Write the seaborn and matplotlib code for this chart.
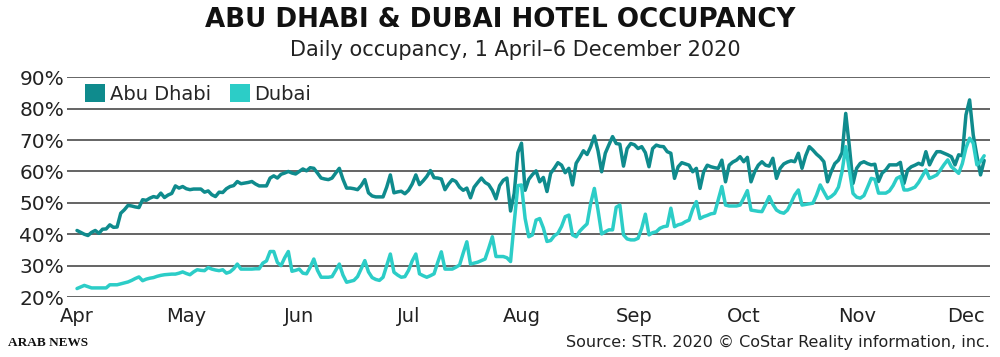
"""
Abu Dhabi & Dubai hotel occupancy, daily, 1 April - 6 December 2020.
"""

import matplotlib.pyplot as plt
import matplotlib.dates as mdates
from matplotlib.patches import Patch
from matplotlib.ticker import FuncFormatter
import seaborn as sns
import pandas as pd

sns.set_style("white")
plt.rcParams["font.family"] = ["DejaVu Sans"]

# daily occupancy (%), one row per month
abu_dhabi = [
    # Apr
    41.2, 40.6, 40.0, 39.6, 40.6, 41.2, 40.3, 41.6, 41.7, 43.0,
    42.2, 42.3, 46.7, 47.8, 49.2, 49.0, 48.7, 48.5, 51.0, 50.8,
    51.5, 52.0, 51.7, 53.1, 51.7, 52.5, 53.0, 55.4, 54.7, 55.2,
    # May
    54.5, 54.2, 54.4, 54.4, 54.4, 53.4, 53.8, 52.6, 52.0, 53.4,
    53.3, 54.5, 55.2, 55.5, 56.8, 56.1, 56.3, 56.5, 56.8, 56.0,
    55.4, 55.4, 55.4, 57.9, 58.6, 57.9, 59.1, 59.5, 60.0, 59.5,
    59.2,
    # Jun
    60.0, 60.8, 60.2, 61.2, 61.0, 59.5, 57.9, 57.6, 57.4, 57.9,
    59.5, 61.0, 57.5, 54.7, 54.7, 54.5, 54.2, 55.5, 57.4, 53.2,
    52.2, 51.9, 51.9, 51.9, 55.0, 58.9, 53.2, 53.5, 53.7, 52.9,
    # Jul
    54.0, 56.0, 58.9, 55.8, 57.0, 58.4, 60.3, 58.0, 57.9, 57.6,
    54.2, 56.0, 57.4, 56.8, 55.0, 54.0, 54.7, 51.6, 55.0, 56.5,
    57.9, 56.5, 55.8, 54.0, 51.3, 55.5, 57.2, 57.9, 47.4, 53.0,
    66.0,
    # Aug
    69.0, 54.0, 57.5, 59.0, 60.2, 56.7, 58.1, 53.6, 59.4, 61.0,
    62.8, 62.0, 59.6, 61.0, 55.7, 62.6, 64.5, 66.6, 65.4, 67.9,
    71.3, 66.6, 59.9, 65.8, 68.5, 71.1, 68.9, 68.7, 61.7, 67.3,
    68.9,
    # Sep
    68.5, 67.3, 67.9, 66.0, 61.5, 67.3, 68.4, 68.0, 67.9, 66.3,
    65.8, 57.8, 61.5, 62.8, 62.4, 62.0, 59.9, 61.0, 54.6, 59.9,
    62.0, 61.5, 61.2, 61.0, 63.6, 56.7, 62.0, 63.0, 63.6, 64.7,
    # Oct
    63.1, 64.5, 56.7, 59.9, 62.0, 63.1, 62.0, 61.7, 64.2, 57.8,
    61.0, 62.4, 63.0, 63.4, 63.1, 65.8, 61.0, 65.0, 67.9, 66.8,
    65.5, 64.5, 63.1, 56.7, 59.9, 62.5, 63.6, 66.0, 78.5, 67.9,
    56.2,
    # Nov
    61.0, 62.6, 63.1, 62.5, 62.1, 62.3, 56.8, 59.5, 60.5, 62.1,
    62.1, 62.1, 62.9, 56.2, 60.5, 61.5, 62.0, 62.6, 62.1, 66.3,
    62.1, 64.5, 66.3, 66.3, 65.8, 65.3, 64.7, 62.1, 65.3, 65.0,
    # Dec
    78.0, 82.8, 71.6, 65.0, 58.9, 63.5,
]

dubai = [
    # Apr
    22.7, 23.2, 23.7, 23.3, 22.9, 22.9, 22.9, 22.9, 22.9, 23.9,
    23.9, 23.9, 24.2, 24.5, 24.8, 25.3, 25.9, 26.4, 25.2, 25.7,
    26.0, 26.2, 26.6, 26.9, 27.1, 27.2, 27.3, 27.3, 27.6, 28.0,
    # May
    27.5, 27.1, 28.0, 28.7, 28.5, 28.4, 29.4, 28.9, 28.6, 28.4,
    28.7, 27.6, 28.0, 29.0, 30.5, 28.9, 28.9, 28.9, 28.9, 29.0,
    29.0, 30.8, 31.5, 34.5, 34.5, 31.0, 30.0, 32.5, 34.5, 28.2,
    28.5,
    # Jun
    28.9, 27.6, 27.4, 29.5, 32.1, 28.5, 26.3, 26.3, 26.3, 26.5,
    28.5, 30.5, 27.0, 24.7, 25.0, 25.3, 26.5, 29.0, 31.6, 28.0,
    26.2, 25.6, 25.3, 26.3, 30.0, 33.7, 27.9, 27.0, 26.3, 26.5,
    # Jul
    28.5, 31.5, 33.7, 27.4, 26.8, 26.3, 26.8, 27.4, 31.0, 34.4,
    28.9, 28.9, 28.9, 29.5, 30.2, 34.0, 37.6, 30.5, 30.8, 31.1,
    31.6, 32.1, 35.5, 39.2, 32.9, 32.9, 32.9, 32.5, 31.3, 43.7,
    55.5,
    # Aug
    55.7, 45.0, 39.2, 39.8, 44.5, 45.0, 42.0, 37.7, 38.0, 39.5,
    40.3, 42.5, 45.6, 46.1, 39.8, 39.2, 41.0, 42.2, 43.3, 49.9,
    54.6, 47.7, 40.1, 40.8, 41.4, 41.4, 48.6, 49.3, 39.8, 38.5,
    38.2,
    # Sep
    38.2, 38.7, 41.9, 46.4, 39.8, 40.5, 40.8, 41.9, 42.4, 42.6,
    48.3, 42.4, 43.0, 43.3, 44.0, 44.5, 48.0, 50.4, 45.0, 45.6,
    46.0, 46.5, 46.7, 51.0, 55.2, 49.3, 49.0, 49.0, 49.0, 49.3,
    # Oct
    51.5, 53.9, 47.7, 47.5, 47.3, 47.2, 49.5, 52.0, 49.5, 47.7,
    47.0, 46.7, 47.7, 50.0, 52.5, 54.1, 49.3, 49.5, 49.7, 49.9,
    52.5, 55.7, 53.5, 51.4, 52.0, 53.0, 55.0, 60.0, 67.9, 60.5,
    53.0,
    # Nov
    51.8, 51.5, 52.3, 55.0, 57.8, 57.5, 53.1, 53.1, 53.1, 53.8,
    55.5, 57.8, 58.4, 54.1, 54.1, 54.5, 55.0, 56.5, 58.5, 60.5,
    57.8, 58.3, 58.9, 60.5, 62.2, 63.7, 61.5, 60.5, 59.4, 62.5,
    # Dec
    67.5, 70.6, 69.0, 62.1, 63.2, 65.0,
]

cities = ["Abu Dhabi", "Dubai"]
colors = {"Abu Dhabi": "#0f8b8d", "Dubai": "#2ccdc7"}
y_ticks = [20, 30, 40, 50, 60, 70, 80, 90]

dates = pd.date_range("2020-04-01", "2020-12-06", freq="D")
df = pd.DataFrame(
    {
        "date": list(dates) * 2,
        "occupancy": abu_dhabi + dubai,
        "city": ["Abu Dhabi"] * len(abu_dhabi) + ["Dubai"] * len(dubai),
    }
)

fig = plt.figure(figsize=(10, 3.57), dpi=100)
ax = fig.add_axes([0.067, 0.168, 0.923, 0.6155])

sns.lineplot(
    data=df,
    x="date",
    y="occupancy",
    hue="city",
    hue_order=cities,
    palette=colors,
    linewidth=2.5,
    legend=False,
    ax=ax,
)

ax.set_ylim(20, 90)
ax.set_yticks(y_ticks)
ax.yaxis.set_major_formatter(FuncFormatter(lambda v, _: f"{v:.0f}%"))
ax.set_xlim(dates[0] - pd.Timedelta(days=2.75), dates[-1] + pd.Timedelta(days=1.6))
ax.xaxis.set_major_locator(mdates.MonthLocator())
ax.xaxis.set_major_formatter(mdates.DateFormatter("%b"))

ax.yaxis.grid(True, color="#3a3a3a", linewidth=1.1)
ax.xaxis.grid(False)
ax.set_axisbelow(True)
for s in ax.spines.values():
    s.set_visible(False)
ax.tick_params(axis="y", length=0, pad=2, labelsize=14.5, labelcolor="#222222")
ax.tick_params(axis="x", length=0, pad=7, labelsize=14, labelcolor="#222222")
ax.set_xlabel("")
ax.set_ylabel("")

handles = [Patch(facecolor=colors[c], edgecolor="none", label=c) for c in cities]
ax.legend(
    handles=handles,
    loc="upper left",
    bbox_to_anchor=(0.005, 1.03),
    ncol=2,
    frameon=False,
    fontsize=14,
    handlelength=1.0,
    handleheight=1.0,
    handletextpad=0.25,
    columnspacing=1.0,
    borderpad=0.2,
)

fig.text(
    0.5, 0.944, "ABU DHABI & DUBAI HOTEL OCCUPANCY",
    ha="center", va="center", fontsize=18.8, fontweight="heavy", color="#111111",
)
fig.text(
    0.515, 0.86, "Daily occupancy, 1 April\u20136 December 2020",
    ha="center", va="center", fontsize=15, color="#222222",
)
fig.text(
    0.008, 0.04, "ARAB NEWS",
    ha="left", va="center", fontsize=9.5, fontweight="bold",
    family=["Liberation Serif", "DejaVu Serif"], color="#111111",
)
fig.text(
    0.99, 0.04, "Source: STR. 2020 \u00a9 CoStar Reality information, inc.",
    ha="right", va="center", fontsize=11.5, color="#222222",
)

fig.savefig("out.png", dpi=100)
